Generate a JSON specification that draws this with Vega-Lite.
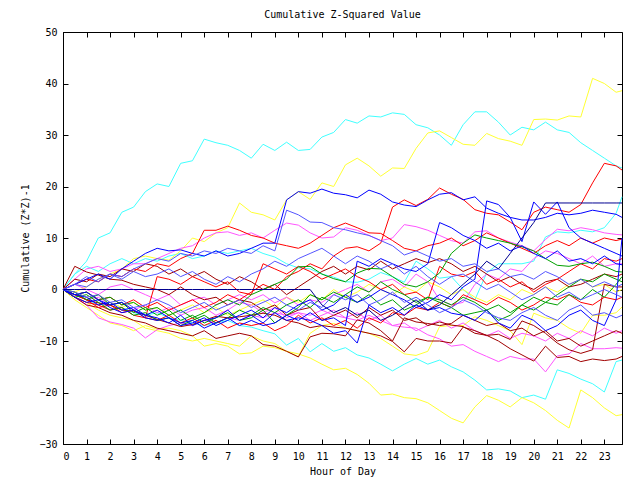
{
"$schema": "https://vega.github.io/schema/vega-lite/v6.json",
"width": 559, "height": 412,
"autosize": {"type": "none"},
"padding": {"left": 63, "top": 32, "right": 18, "bottom": 36},
"background": "white",
"config": {"view": {"stroke": "black", "strokeWidth": 1}, "font": "DejaVu Sans Mono"},
"title": {"text": "Cumulative Z-Squared Value", "font": "DejaVu Sans Mono", "fontSize": 10, "fontWeight": "normal", "color": "black", "offset": 7},
"datasets": {"walks": [
{"s":"c1","g":"cyan","h":[0,0.5,1,1.5,2,2.5,3,3.5,4,4.5,5,5.5,6,6.5,7,7.5,8,8.5,9,9.5,10,10.5,11,11.5,12,12.5,13,13.5,14,14.5,15,15.5,16,16.5,17,17.5,18,18.5,19,19.5,20,20.5,21,21.5,22,22.5,23,23.5,23.75],"v":[0,3,5.5,10,11,15,16,19,20.5,20,24.5,25,29.2,28.5,28,27,25.5,28.2,27,28.6,27,27.2,29.6,30.5,33,32.3,33.7,33.5,34.3,34,32,31.4,30,28,32,34.5,34.5,32.5,30,31.5,31,32.5,31,30.5,28.5,27,25.5,24,23.6]},
{"s":"c2","g":"cyan","h":[0,0.5,1,1.5,2,2.5,3,3.5,4,4.5,5,5.5,6,6.5,7,7.5,8,8.5,9,9.5,10,10.5,11,11.5,12,12.5,13,13.5,14,14.5,15,15.5,16,16.5,17,17.5,18,18.5,19,19.5,20,20.5,21,21.5,22,22.5,23,23.5,23.75],"v":[0,3,4.5,3.5,5,6,5,6,5.5,6.5,7,6,6.5,7.5,7,7.5,8,7,6.3,5,4.2,4,3,2.4,1.5,1.4,2,3.3,2.5,1.4,5.5,4,2.2,2.5,0,-2,3.2,5,5,5,5.5,10.2,11.2,11,11.5,11.2,12,14.8,18]},
{"s":"c3","g":"cyan","h":[0,0.5,1,1.5,2,2.5,3,3.5,4,4.5,5,5.5,6,6.5,7,7.5,8,8.5,9,9.5,10,10.5,11,11.5,12,12.5,13,13.5,14,14.5,15,15.5,16,16.5,17,17.5,18,18.5,19,19.5,20,20.5,21,21.5,22,22.5,23,23.5,23.75],"v":[0,-1,-2,-3,-2.5,-3.5,-4.5,-5,-4.5,-5.5,-6,-6.5,-7,-6.5,-6,-7,-7.3,-8,-8.6,-10.8,-9.5,-12.1,-10.5,-12,-11.3,-12.7,-13.3,-14.5,-15.8,-14.5,-13.4,-14.5,-13.7,-15,-16,-17.6,-19.5,-19.3,-19.7,-21,-20.5,-21.3,-15.6,-16.3,-17.4,-18.3,-19.9,-14,-13.7]},
{"s":"y1","g":"yellow","h":[0,0.5,1,1.5,2,2.5,3,3.5,4,4.5,5,5.5,6,6.5,7,7.5,8,8.5,9,9.5,10,10.5,11,11.5,12,12.5,13,13.5,14,14.5,15,15.5,16,16.5,17,17.5,18,18.5,19,19.5,20,20.5,21,21.5,22,22.5,23,23.5,23.75],"v":[0,-0.5,0.5,2,3,4,6,6.5,6,5.7,7.5,10,9.3,11,12,16.8,15,14.5,13.5,17.4,19,17.5,20.7,20,24.2,25.5,24,22,23.6,23.5,27.4,30.4,30.8,29.5,28.2,28,30.3,29.3,28.8,28,33,33.1,32.9,33.7,33.5,41,40,38.3,38.6]},
{"s":"y2","g":"yellow","h":[0,0.5,1,1.5,2,2.5,3,3.5,4,4.5,5,5.5,6,6.5,7,7.5,8,8.5,9,9.5,10,10.5,11,11.5,12,12.5,13,13.5,14,14.5,15,15.5,16,16.5,17,17.5,18,18.5,19,19.5,20,20.5,21,21.5,22,22.5,23,23.5,23.75],"v":[0,-1.5,-2.5,-4,-5,-5.5,-6,-7.5,-8,-8.5,-9.5,-10,-9.5,-10,-10.5,-11,-9,-10,-10.5,-12,-13,-8.5,-7,-6.6,-7.5,-8,-8.5,-9.5,-11,-12.5,-12.8,-12,-7.2,-7,-7,-5.3,-6,-7,-8,-10.7,-4.6,-5.5,-6,-7.5,-8.5,-5,-5,-4.5,-3.4]},
{"s":"y3","g":"yellow","h":[0,0.5,1,1.5,2,2.5,3,3.5,4,4.5,5,5.5,6,6.5,7,7.5,8,8.5,9,9.5,10,10.5,11,11.5,12,12.5,13,13.5,14,14.5,15,15.5,16,16.5,17,17.5,18,18.5,19,19.5,20,20.5,21,21.5,22,22.5,23,23.5,23.75],"v":[0,-2,-3.5,-5,-6.5,-7,-8,-7,-7.7,-7.5,-8,-9,-11,-10.5,-11,-12.5,-12.3,-11,-11.3,-12,-12.5,-13.3,-14.5,-15.6,-15.3,-16.5,-18.2,-20.5,-20.3,-21,-21.2,-22,-23.5,-25,-25.9,-22.8,-20.6,-21.5,-22.8,-21,-22,-23.5,-25.4,-26.9,-19.5,-21,-23,-24.5,-24.3]},
{"s":"y4","g":"yellow","h":[0,0.5,1,1.5,2,2.5,3,3.5,4,4.5,5,5.5,6,6.5,7,7.5,8,8.5,9,9.5,10,10.5,11,11.5,12,12.5,13,13.5,14,14.5,15,15.5,16,16.5,17,17.5,18,18.5,19,19.5,20,20.5,21,21.5,22,22.5,23,23.5,23.75],"v":[0,-0.5,-1.5,-1,-2.5,-3.5,-2.5,-4,-3.5,-5,-4,-3,-4.5,-3.5,-5,-4,-3,-2,-3.5,-1.5,-2.5,-1,-2,0,-1.5,-0.5,1,0,-1,0.5,-0.5,1.5,0.5,-1,0,-1.5,-2.5,-1,-2,0,-1,0.5,-0.5,1,2,0.5,1,-0.5,0]},
{"s":"m1","g":"magenta","h":[0,0.5,1,1.5,2,2.5,3,3.5,4,4.5,5,5.5,6,6.5,7,7.5,8,8.5,9,9.5,10,10.5,11,11.5,12,12.5,13,13.5,14,14.5,15,15.5,16,16.5,17,17.5,18,18.5,19,19.5,20,20.5,21,21.5,22,22.5,23,23.5,23.75],"v":[0,2,4,4.5,3.5,4,5,5,6,7,8,8.5,10,11,11.2,10.5,11,10,11.5,12.9,12.5,11,10,10.2,12,11.5,10.5,9.5,10,12.6,12.2,11.5,10.5,9.5,9,11.2,11.4,10,9.2,8.5,7.5,9.7,11.7,11.4,12,11.6,11,10.7,10.6]},
{"s":"m2","g":"magenta","h":[0,0.5,1,1.5,2,2.5,3,3.5,4,4.5,5,5.5,6,6.5,7,7.5,8,8.5,9,9.5,10,10.5,11,11.5,12,12.5,13,13.5,14,14.5,15,15.5,16,16.5,17,17.5,18,18.5,19,19.5,20,20.5,21,21.5,22,22.5,23,23.5,23.75],"v":[0,-1.5,-3,-5.5,-6.3,-6.8,-7.5,-9.4,-7.8,-7,-6.5,-7,-6,-6.5,-5.5,-6,-5,-5.5,-4.5,-5,-4.5,-5,-4,-5,-5.5,-6,-5,-6,-7,-7.3,-7.5,-8.8,-9.6,-11,-10.7,-12,-13,-14,-13,-13.5,-13.5,-16,-12.9,-12.5,-10.5,-11.5,-11.5,-11.3,-11.4]},
{"s":"m3","g":"magenta","h":[0,0.5,1,1.5,2,2.5,3,3.5,4,4.5,5,5.5,6,6.5,7,7.5,8,8.5,9,9.5,10,10.5,11,11.5,12,12.5,13,13.5,14,14.5,15,15.5,16,16.5,17,17.5,18,18.5,19,19.5,20,20.5,21,21.5,22,22.5,23,23.5,23.75],"v":[0,1,0,-1,0.5,1,0,-1,-2,-1,-3,-2,-1.5,-3,-2,-1,-2,-1,-2.6,-1.5,-3,-2,-2.5,-1,0,1,-0.5,1.5,2,0.5,3,1.5,-2,-3,-2.5,1,3,2,4,3.5,6,7.5,7,6,5,6.5,4.5,5,5]},
{"s":"m4","g":"magenta","h":[0,0.5,1,1.5,2,2.5,3,3.5,4,4.5,5,5.5,6,6.5,7,7.5,8,8.5,9,9.5,10,10.5,11,11.5,12,12.5,13,13.5,14,14.5,15,15.5,16,16.5,17,17.5,18,18.5,19,19.5,20,20.5,21,21.5,22,22.5,23,23.5,23.75],"v":[0,-1,-2,-1.5,-3,-2.5,-4,-3,-4.5,-3.5,-5,-4,-3.5,-5,-4,-2.5,-3,-4.5,-3.5,-5.5,-4.5,-6,-5,-4,-5.5,-4.5,-6,-5,-7,-6.5,-8,-7,-6,-7.5,-6.5,-8,-9,-8,-9.5,-8.5,-9,-10,-8.5,-9.5,-8,-9,-7.5,-8.5,-8]},
{"s":"d1","g":"darkred","h":[0,0.5,1,1.5,2,2.5,3,3.5,4,4.5,5,5.5,6,6.5,7,7.5,8,8.5,9,9.5,10,10.5,11,11.5,12,12.5,13,13.5,14,14.5,15,15.5,16,16.5,17,17.5,18,18.5,19,19.5,20,20.5,21,21.5,22,22.5,23,23.5,23.75],"v":[0,4.5,3.4,2.8,2,1.8,1,0.5,0,-1,0.5,-1,-2,-1.5,-3,-2,-2.5,-4,-3,-5,-4,-3.5,-6,-5,-4,-5.5,-3.5,-5,-4,-6,-5.5,-7,-6.3,-6.9,-7.2,-8.5,-8.9,-8.7,-9.7,-6.1,-7,-8.5,-10.4,-11.7,-12.4,-11.7,1,0.5,0.5]},
{"s":"d2","g":"darkred","h":[0,0.5,1,1.5,2,2.5,3,3.5,4,4.5,5,5.5,6,6.5,7,7.5,8,8.5,9,9.5,10,10.5,11,11.5,12,12.5,13,13.5,14,14.5,15,15.5,16,16.5,17,17.5,18,18.5,19,19.5,20,20.5,21,21.5,22,22.5,23,23.5,23.75],"v":[0,-1,-2,-2.6,-3,-4,-4.2,-5,-5.8,-6.5,-7.2,-6.8,-6,-5.2,-5.5,-5.3,-5,-4.6,-5,-6,-6.5,-7.4,-7,-7.3,-7.5,-8,-8.5,-9,-10.1,-12.1,-9.5,-10,-10,-10.4,-7.3,-8,-8.9,-10,-11.5,-12.7,-13.9,-11,-13.2,-13,-14,-13.5,-13.8,-13.5,-13]},
{"s":"d3","g":"darkred","h":[0,0.5,1,1.5,2,2.5,3,3.5,4,4.5,5,5.5,6,6.5,7,7.5,8,8.5,9,9.5,10,10.5,11,11.5,12,12.5,13,13.5,14,14.5,15,15.5,16,16.5,17,17.5,18,18.5,19,19.5,20,20.5,21,21.5,22,22.5,23,23.5,23.75],"v":[0,-1.5,-3,-3.5,-4.5,-5,-6,-6.5,-7.5,-8,-8.5,-9,-8,-9.5,-9,-8.5,-9,-10.7,-11,-12,-13.1,-9.2,-8.5,-8.6,-9,-5.9,-6.5,-8,-10,-5.5,-6.3,-6.6,-7,-6.6,-5,-6,-7,-6.5,-8,-7.5,-9,-8,-10,-9.5,-11,-10,-9,-8,-8.5]},
{"s":"d4","g":"darkred","h":[0,0.5,1,1.5,2,2.5,3,3.5,4,4.5,5,5.5,6,6.5,7,7.5,8,8.5,9,9.5,10,10.5,11,11.5,12,12.5,13,13.5,14,14.5,15,15.5,16,16.5,17,17.5,18,18.5,19,19.5,20,20.5,21,21.5,22,22.5,23,23.5,23.75],"v":[0,2,1.5,3,2.5,4,3.5,5,4.5,3,4,2.5,3.5,2,1,2.5,1.5,0,1,-1,0.5,2,3.5,4.5,3,4.5,3.8,5.5,4,5,6,5.2,6,5,3.5,4.5,3,1.5,2.5,1,0,1.5,2,0.5,1,2,3,2.5,3]},
{"s":"r1","g":"red","h":[0,0.5,1,1.5,2,2.5,3,3.5,4,4.5,5,5.5,6,6.5,7,7.5,8,8.5,9,9.5,10,10.5,11,11.5,12,12.5,13,13.5,14,14.5,15,15.5,16,16.5,17,17.5,18,18.5,19,19.5,20,20.5,21,21.5,22,22.5,23,23.5,23.75],"v":[0,-1,-0.5,-2,-1.5,-3,-2,-3.5,-2.5,-4,-3,-2,-3.5,-2.5,-1,-2,-0.5,1,0,2.5,3.5,5,4,6.5,8,8.3,7.5,9,16,17.4,16.3,17.5,19.7,18.5,17.5,15.5,14.8,14.5,13.1,11.6,15,16,15.5,15,16.5,20.7,24.5,24,23.2]},
{"s":"r2","g":"red","h":[0,0.5,1,1.5,2,2.5,3,3.5,4,4.5,5,5.5,6,6.5,7,7.5,8,8.5,9,9.5,10,10.5,11,11.5,12,12.5,13,13.5,14,14.5,15,15.5,16,16.5,17,17.5,18,18.5,19,19.5,20,20.5,21,21.5,22,22.5,23,23.5,23.75],"v":[0,1,2,1.5,3,2.5,4,3.5,5,4.5,6,7,11.5,11.5,12.3,11.5,10.5,10,9,8.5,8,9,10.5,12,12.9,12,11,10.9,9.5,8,7.5,8.5,9,10,8.5,9.5,11,10,9,8,7,8.5,9.5,8.5,10,9,10,9.5,9.8]},
{"s":"r3","g":"red","h":[0,0.5,1,1.5,2,2.5,3,3.5,4,4.5,5,5.5,6,6.5,7,7.5,8,8.5,9,9.5,10,10.5,11,11.5,12,12.5,13,13.5,14,14.5,15,15.5,16,16.5,17,17.5,18,18.5,19,19.5,20,20.5,21,21.5,22,22.5,23,23.5,23.75],"v":[0,-1.5,-2.5,-3,-4,-3.5,-5,-5.5,2.5,2,1,2.5,1.5,0.5,1.5,-0.5,-1,5,4,3,4.5,3.5,2,3,4,2.5,1.5,0,1,-1,-0.5,-2,4.5,3,2.5,3.5,1,2,0.5,1.5,-0.5,1,2,3.5,5,4,6,5.5,6]},
{"s":"r4","g":"red","h":[0,0.5,1,1.5,2,2.5,3,3.5,4,4.5,5,5.5,6,6.5,7,7.5,8,8.5,9,9.5,10,10.5,11,11.5,12,12.5,13,13.5,14,14.5,15,15.5,16,16.5,17,17.5,18,18.5,19,19.5,20,20.5,21,21.5,22,22.5,23,23.5,23.75],"v":[0,-1,-2,-3.5,-3,-4.5,-4,-5.5,-6,-5,-6.5,-5.5,-7,-6,-7.5,-6.5,-7,-6.5,-8,-7,-5,-6.5,-5.5,-7,-6,-7.5,-5.5,-6.5,-4.5,-5,-3.5,-4,-2.5,-3.5,-1,-2,-3,-1.5,-2.5,-4,-3,-1.5,-2,-1,-2.5,-3,-1.5,-2,-1.5]},
{"s":"g1","g":"green","h":[0,0.5,1,1.5,2,2.5,3,3.5,4,4.5,5,5.5,6,6.5,7,7.5,8,8.5,9,9.5,10,10.5,11,11.5,12,12.5,13,13.5,14,14.5,15,15.5,16,16.5,17,17.5,18,18.5,19,19.5,20,20.5,21,21.5,22,22.5,23,23.5,23.75],"v":[0,-1,-0.5,-2,-1.5,-3,-2.5,-4,-3.5,-5,-4,-5.5,-4.5,-3,-2,-3,-1,0,1,2,4.4,4.5,3,2.1,1.5,3.2,4.1,4,2.5,1,0.5,1.5,3.2,7,9,10.6,10,9.5,9,8.3,7.5,6,4.7,4.5,5,5.3,4.5,3.5,3.4]},
{"s":"g2","g":"green","h":[0,0.5,1,1.5,2,2.5,3,3.5,4,4.5,5,5.5,6,6.5,7,7.5,8,8.5,9,9.5,10,10.5,11,11.5,12,12.5,13,13.5,14,14.5,15,15.5,16,16.5,17,17.5,18,18.5,19,19.5,20,20.5,21,21.5,22,22.5,23,23.5,23.75],"v":[0,-0.5,-2,-1,-3,-2.5,-4.5,-3.5,-5,-4,-6,-5,-6.5,-5.5,-4.5,-6,-5.5,-4,-6.5,-5,-3.5,-1,-2,-0.5,-1.5,-2.5,-1,-3,-2,-4,-3,-1.5,-2.5,-3.5,-5,-4.5,-4,-6,-5,-3,-4,-2.5,-3,-1,-2,0,-1.5,1,2.5]},
{"s":"g3","g":"green","h":[0,0.5,1,1.5,2,2.5,3,3.5,4,4.5,5,5.5,6,6.5,7,7.5,8,8.5,9,9.5,10,10.5,11,11.5,12,12.5,13,13.5,14,14.5,15,15.5,16,16.5,17,17.5,18,18.5,19,19.5,20,20.5,21,21.5,22,22.5,23,23.5,23.75],"v":[0,-1.5,-1,-2.5,-4,-3.5,-5,-4.5,-6,-5.5,-7,-6,-5,-6.5,-5.5,-4,-5,-3.5,-4.5,-3,-2,-3.5,-1.5,-2.5,-1,0.5,-0.5,1.5,0,-1,-2.5,-1.5,-2,-3,-1.5,-2.5,-4,-3,-4.5,-3,-1.5,-2.5,-1,0.5,2,1.5,3,2,1.5]},
{"s":"b1","g":"blue","h":[0,0.5,1,1.5,2,2.5,3,3.5,4,4.5,5,5.5,6,6.5,7,7.5,8,8.5,9,9.5,10,10.5,11,11.5,12,12.5,13,13.5,14,14.5,15,15.5,16,16.5,17,17.5,18,18.5,19,19.5,20,20.5,21,21.5,22,22.5,23,23.5,23.75],"v":[0,1,2,3,2,4,5.5,7,8,7.5,7.7,7,6.5,7.5,6.5,7,8,9,9,17.4,19,18.7,19.5,18.7,18.4,17.8,19.3,18.5,17,16.4,16.1,17.4,18.5,18.8,17.4,18,15.8,14.8,14,13.5,13.5,14,14.8,14.5,14.8,15.4,15,14.6,14]},
{"s":"b2","g":"blue","h":[0,0.5,1,1.5,2,2.5,3,3.5,4,4.5,5,5.5,6,6.5,7,7.5,8,8.5,9,9.5,10,10.5,11,11.5,12,12.5,13,13.5,14,14.5,15,15.5,16,16.5,17,17.5,18,18.5,19,19.5,20,20.5,21,21.5,22,22.5,23,23.5,23.75],"v":[0,-1.5,-2.5,-2,-3.5,-4.5,-4,-5.5,-6,-5.5,-7,-6.5,-5.5,-7,-6,-5,-4,-5.5,-3.5,-4.5,-3,-2,-4,-3,-1,-2.5,-1.5,0,-1,-2,-3.5,-2.5,-1,-2,0.5,2,17.2,16.5,14,9.3,17,14.6,17,12,10,9,8,7,6.5]},
{"s":"b3","g":"blue","h":[0,0.5,1,1.5,2,2.5,3,3.5,4,4.5,5,5.5,6,6.5,7,7.5,8,8.5,9,9.5,10,10.5,11,11.5,12,12.5,13,13.5,14,14.5,15,15.5,16,16.5,17,17.5,18,18.5,19,19.5,20,20.5,21,21.5,22,22.5,23,23.5,23.75],"v":[0,-1,-0.5,-2,-3,-2.5,-4,-5,-4,-5.5,-6.5,-6,-7.5,-6.5,-5.5,-7,-6,-7,-6.5,-5,-6,-4.5,-6,-5.5,-7,5.5,4.5,6,5,4,3.5,5,13,12,10.5,9.5,8,9,7.5,8.5,7,6,7.5,5.5,6,5,6.5,5,4.8]},
{"s":"b4","g":"blue","h":[0,0.5,1,1.5,2,2.5,3,3.5,4,4.5,5,5.5,6,6.5,7,7.5,8,8.5,9,9.5,10,10.5,11,11.5,12,12.5,13,13.5,14,14.5,15,15.5,16,16.5,17,17.5,18,18.5,19,19.5,20,20.5,21,21.5,22,22.5,23,23.5,23.75],"v":[0,-1,-1.5,-3,-2.5,-4,-3.5,-5,-5.5,-6.5,-5,-7,-6,-5.5,-4,-6,-5,-6.5,-4.5,-6,-5.5,-6,-7,-8.5,-8,-10.4,-3,-4.5,-3.5,-5,-3,-4,-3.5,-4.6,-5,-6,-4,-6.5,-7.5,-5,-6,-8,-7,-5,-4,-6,-7,-2,10]},
{"s":"lb1","g":"lightblue","h":[0,0.5,1,1.5,2,2.5,3,3.5,4,4.5,5,5.5,6,6.5,7,7.5,8,8.5,9,9.5,10,10.5,11,11.5,12,12.5,13,13.5,14,14.5,15,15.5,16,16.5,17,17.5,18,18.5,19,19.5,20,20.5,21,21.5,22,22.5,23,23.5,23.75],"v":[0,1,0.5,2,3,2.5,4,5,6,5.5,7,6.5,7.5,7,8,7.5,7,8.5,7.5,15.4,14.5,13.1,13,12,11.6,11,10.5,9.5,8.5,6.7,7.5,6.5,5.5,6,4.5,5,3.5,4,2.5,3,2,3.5,2.5,1,2,0.5,1.5,0.5,1]},
{"s":"lb2","g":"lightblue","h":[0,0.5,1,1.5,2,2.5,3,3.5,4,4.5,5,5.5,6,6.5,7,7.5,8,8.5,9,9.5,10,10.5,11,11.5,12,12.5,13,13.5,14,14.5,15,15.5,16,16.5,17,17.5,18,18.5,19,19.5,20,20.5,21,21.5,22,22.5,23,23.5,23.75],"v":[0,-0.5,-1.5,-1,-2.5,-2,-3.5,-3,-2,-3,-4.5,-3.5,-2.5,-4,-3,-2,-3.5,-2.5,-1.5,-3,-4,-2.5,-3.5,-1,-2,-1,-3,-2,-0.5,-2.5,-1.5,-3,-4.5,-3.5,-2,-3,-4.5,-5.5,-6,-4.5,-3.5,-5,-6,-4,-3,-5,-4.5,-5.5,-5]},
{"s":"lb3","g":"lightblue","h":[0,0.5,1,1.5,2,2.5,3,3.5,4,4.5,5,5.5,6,6.5,7,7.5,8,8.5,9,9.5,10,10.5,11,11.5,12,12.5,13,13.5,14,14.5,15,15.5,16,16.5,17,17.5,18,18.5,19,19.5,20,20.5,21,21.5,22,22.5,23,23.5,23.75],"v":[0,1,2.5,1.5,3,2,3.5,2.5,3,4,2.5,3.5,2,1,2.5,1.5,3,4,5.5,4.5,6,7,8,6.5,5,6.5,5.5,4,5,3,4.5,2.5,1,2.5,3,1.5,0,1,-0.5,-2,-1,0.5,-1.5,-0.5,-2,-1,0,-1,-1.5]},
{"s":"nv","g":"navy","h":[0,0.5,1,1.5,2,2.5,3,3.5,4,4.5,5,5.5,6,6.5,7,7.5,8,8.5,9,9.5,10,10.5,11,11.5,12,12.5,13,13.5,14,14.5,15,15.5,16,16.5,17,17.5,18,18.5,19,19.5,20,20.5,21,21.5,22,22.5,23,23.5,23.75],"v":[0,0,0,0,0,0,0,0,0,0,0,0,0,0,0,0,0,0,0,0,0,0,-3,-4.5,-3.5,-5,-4,-6,-5,-3.5,-2,-4,-3,-1,1,3,5.5,4,7,10,13,16.8,16.8,16.8,16.8,16.8,16.8,16.8,16.8]}
]},
"layer": [
{
"data": {"name": "walks"},
"transform": [{"flatten": ["h", "v"]}],
"mark": {"type": "line", "strokeWidth": 1},
"encoding": {
"x": {"field": "h", "type": "quantitative", "scale": {"domain": [0, 23.75], "nice": false, "zero": false},
"axis": {"orient": "bottom", "values": [0,1,2,3,4,5,6,7,8,9,10,11,12,13,14,15,16,17,18,19,20,21,22,23], "format": "d", "grid": false, "tickSize": -5, "tickColor": "black", "domainColor": "black", "labelPadding": 12, "labelFont": "DejaVu Sans Mono", "labelFontSize": 10, "labelColor": "black", "title": "Hour of Day", "titleFont": "DejaVu Sans Mono", "titleFontSize": 10, "titleFontWeight": "normal", "titleColor": "black", "titlePadding": 5}},
"y": {"field": "v", "type": "quantitative", "scale": {"domain": [-30, 50], "nice": false, "zero": false},
"axis": {"orient": "left", "values": [-30,-20,-10,0,10,20,30,40,50], "grid": false, "tickSize": -5, "tickColor": "black", "domainColor": "black", "labelPadding": 11, "labelFont": "DejaVu Sans Mono", "labelFontSize": 10, "labelColor": "black", "title": "Cumulative (Z*Z)-1", "titleFont": "DejaVu Sans Mono", "titleFontSize": 10, "titleFontWeight": "normal", "titleColor": "black", "titlePadding": 8}},
"color": {"field": "g", "type": "nominal", "legend": null,
"scale": {"domain": ["cyan","yellow","magenta","darkred","red","green","blue","lightblue","navy"], "range": ["#40ffff","#ffff33","#ff55ff","#a00000","#ff0000","#00a000","#0000ff","#5555ff","#000090"]}},
"detail": {"field": "s", "type": "nominal"}
}
},
{
"data": {"values": [{"h": 0, "v": 0}]},
"mark": {"type": "point", "opacity": 0},
"encoding": {
"x": {"field": "h", "type": "quantitative", "axis": {"orient": "top", "values": [0,1,2,3,4,5,6,7,8,9,10,11,12,13,14,15,16,17,18,19,20,21,22,23], "labels": false, "domain": false, "grid": false, "tickSize": -5, "tickColor": "black", "title": null}},
"y": {"field": "v", "type": "quantitative", "axis": {"orient": "right", "values": [-30,-20,-10,0,10,20,30,40,50], "labels": false, "domain": false, "grid": false, "tickSize": -5, "tickColor": "black", "title": null}}
}
}
],
"resolve": {"axis": {"x": "independent", "y": "independent"}}
}
